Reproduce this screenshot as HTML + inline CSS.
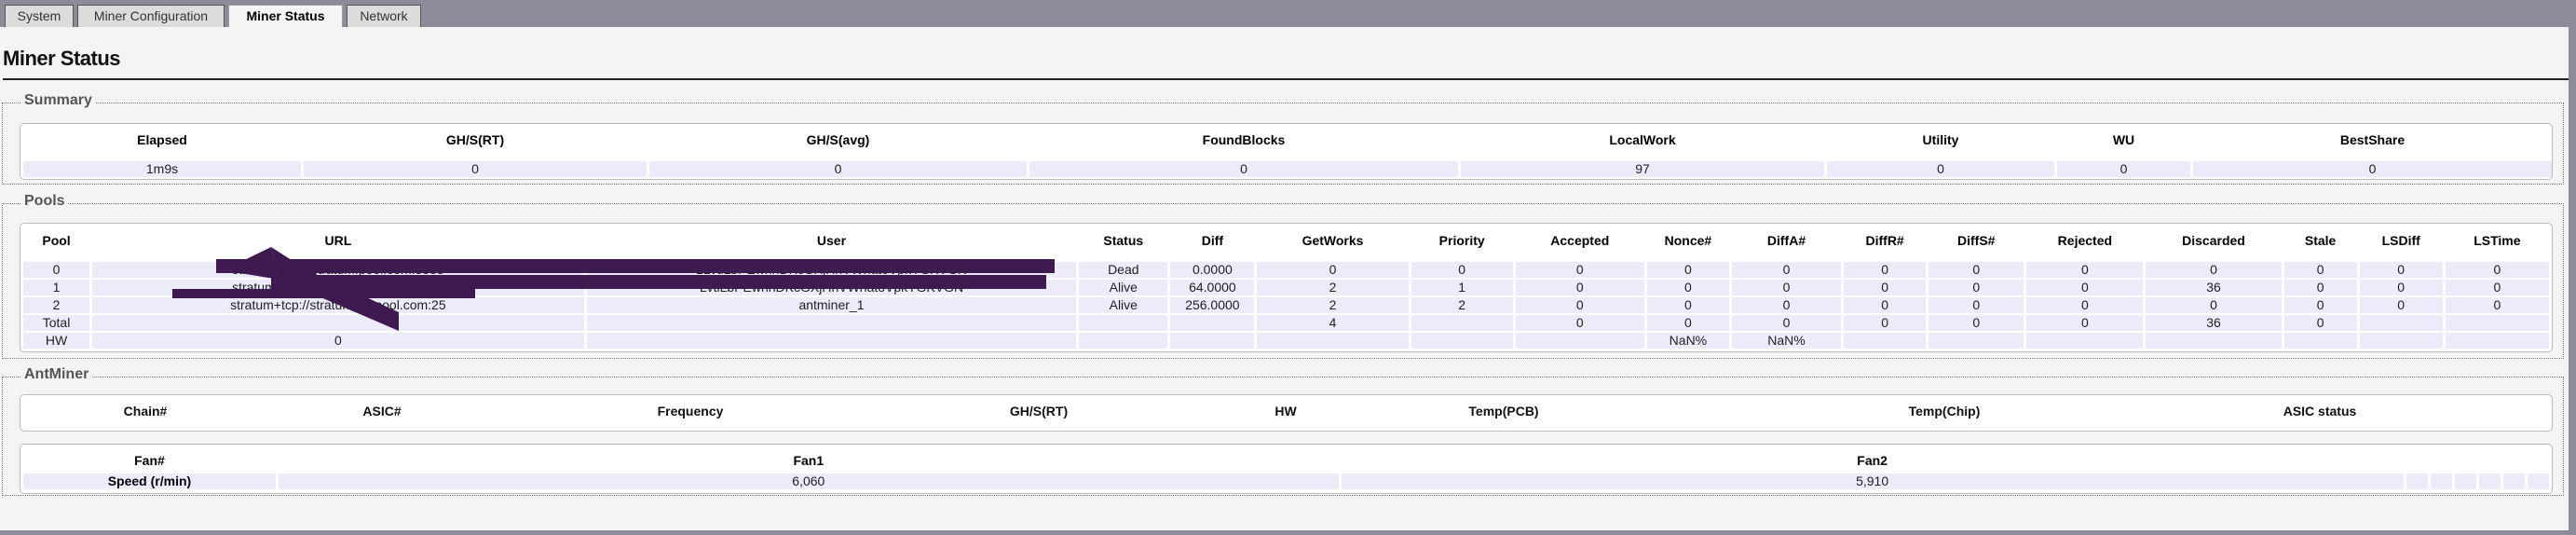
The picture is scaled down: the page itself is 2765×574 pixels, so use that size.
<!DOCTYPE html>
<html><head><meta charset="utf-8"><style>
*{margin:0;padding:0;box-sizing:border-box}
body{width:2765px;height:574px;background:#8e8a9a;position:relative;overflow:hidden;font-family:"Liberation Sans",sans-serif;font-size:14px;color:#111}
.page{position:absolute;left:0;top:29px;width:2757px;height:540px;background:#f4f4f4}
.tab{position:absolute;top:5px;height:25px;background:#dcdcdc;border:1px solid #555;border-bottom:none;font-size:14px;color:#333;text-align:center;line-height:23px}
.tab.a{background:#f4f4f4;font-weight:bold;color:#000;border-color:#999;height:25px}
h2{position:absolute;left:3px;top:50px;font-size:22px;font-weight:bold;color:#111;letter-spacing:-0.5px}
.hr{position:absolute;left:3px;top:84px;width:2754px;height:2px;background:#222}
.fs{position:absolute;left:2px;width:2750px;border:1px dotted #777}
.lg{position:absolute;left:20px;top:-12px;background:#f4f4f4;font-weight:bold;font-size:16px;color:#555;padding:0 3px}
.box{position:absolute;left:21px;width:2719px;background:#fff;border:1px solid #bbb;border-radius:5px}
table{border-spacing:3px 2px;table-layout:fixed;position:absolute;left:0;top:0}
td,th{text-align:center;white-space:nowrap;overflow:hidden;font-size:14px}
th{font-weight:bold;color:#000}
td{background:#ebebfa;height:17px;line-height:17px;color:#222}
.h{position:absolute;font-weight:bold;transform:translateX(-50%);white-space:nowrap}
</style></head><body>
<div class="tab" style="left:5px;width:74px">System</div>
<div class="tab" style="left:83px;width:158px">Miner Configuration</div>
<div class="tab a" style="left:245px;width:123px">Miner Status</div>
<div class="tab" style="left:372px;width:80px">Network</div>
<div class="page"></div>
<h2>Miner Status</h2>
<div class="hr"></div>

<div class="fs" style="top:110px;height:88px"><div class="lg">Summary</div></div>
<div class="box" style="top:132px;height:61px">
<table style="width:2717px">
<colgroup><col style="width:298px"><col style="width:368px"><col style="width:405px"><col style="width:460px"><col style="width:390px"><col style="width:244px"><col style="width:143px"><col style="width:385px"></colgroup>
<tr style="height:36px"><th style="padding-bottom:6px">Elapsed</th><th style="padding-bottom:6px">GH/S(RT)</th><th style="padding-bottom:6px">GH/S(avg)</th><th style="padding-bottom:6px">FoundBlocks</th><th style="padding-bottom:6px">LocalWork</th><th style="padding-bottom:6px">Utility</th><th style="padding-bottom:6px">WU</th><th style="padding-bottom:6px">BestShare</th></tr>
<tr><td>1m9s</td><td>0</td><td>0</td><td>0</td><td>97</td><td>0</td><td>0</td><td>0</td></tr>
</table></div>

<div class="fs" style="top:218px;height:167px"><div class="lg">Pools</div></div>
<div class="box" style="top:239px;height:139px">
<table style="width:2717px;top:2px">
<colgroup><col style="width:71px"><col style="width:527px"><col style="width:525px"><col style="width:95px"><col style="width:90px"><col style="width:162px"><col style="width:109px"><col style="width:138px"><col style="width:88px"><col style="width:117px"><col style="width:88px"><col style="width:102px"><col style="width:125px"><col style="width:145px"><col style="width:78px"><col style="width:89px"><col style="width:111px"></colgroup>
<tr style="height:35px;vertical-align:top"><th style="padding-top:6px">Pool</th><th style="padding-top:6px">URL</th><th style="padding-top:6px">User</th><th style="padding-top:6px">Status</th><th style="padding-top:6px">Diff</th><th style="padding-top:6px">GetWorks</th><th style="padding-top:6px">Priority</th><th style="padding-top:6px">Accepted</th><th style="padding-top:6px">Nonce#</th><th style="padding-top:6px">DiffA#</th><th style="padding-top:6px">DiffR#</th><th style="padding-top:6px">DiffS#</th><th style="padding-top:6px">Rejected</th><th style="padding-top:6px">Discarded</th><th style="padding-top:6px">Stale</th><th style="padding-top:6px">LSDiff</th><th style="padding-top:6px">LSTime</th></tr>
<tr><td>0</td><td>stratum+tcp://stratum.pool.com:3333</td><td>1LvtiLbPEwnnDKcGXjHnVWhatoVpkYGKVGN</td><td>Dead</td><td>0.0000</td><td>0</td><td>0</td><td>0</td><td>0</td><td>0</td><td>0</td><td>0</td><td>0</td><td>0</td><td>0</td><td>0</td><td>0</td></tr>
<tr><td>1</td><td>stratum+tcp://stratum.pool.com:3333</td><td>LvtiLbPEwnnDKcGXjHnVWhatoVpkYGKVGN</td><td>Alive</td><td>64.0000</td><td>2</td><td>1</td><td>0</td><td>0</td><td>0</td><td>0</td><td>0</td><td>0</td><td>36</td><td>0</td><td>0</td><td>0</td></tr>
<tr><td>2</td><td>stratum+tcp://stratum-cn.pool.com:25</td><td>antminer_1</td><td>Alive</td><td>256.0000</td><td>2</td><td>2</td><td>0</td><td>0</td><td>0</td><td>0</td><td>0</td><td>0</td><td>0</td><td>0</td><td>0</td><td>0</td></tr>
<tr><td>Total</td><td></td><td></td><td></td><td></td><td>4</td><td></td><td>0</td><td>0</td><td>0</td><td>0</td><td>0</td><td>0</td><td>36</td><td>0</td><td></td><td></td></tr>
<tr><td>HW</td><td>0</td><td></td><td></td><td></td><td></td><td></td><td></td><td>NaN%</td><td>NaN%</td><td></td><td></td><td></td><td></td><td></td><td></td><td></td></tr>
</table></div>

<svg style="position:absolute;left:0;top:0" width="2765" height="574">
<g fill="#3f1a50">
<polygon points="232,278 1132,278 1132,293 232,293"/>
<polygon points="291,295 1123,295 1123,310 291,310"/>
<polygon points="185,310 510,310 510,320 185,320"/>
<polygon points="291,265 300,300 428,355 428,335 330,290"/>
<polygon points="240,290 291,265 300,300"/>
</g></svg>

<div class="fs" style="top:404px;height:128px"><div class="lg">AntMiner</div></div>
<div class="box" style="top:423px;height:40px">
<div class="h" style="left:134px;top:9px">Chain#</div>
<div class="h" style="left:388px;top:9px">ASIC#</div>
<div class="h" style="left:719px;top:9px">Frequency</div>
<div class="h" style="left:1093px;top:9px">GH/S(RT)</div>
<div class="h" style="left:1358px;top:9px">HW</div>
<div class="h" style="left:1592px;top:9px">Temp(PCB)</div>
<div class="h" style="left:2065px;top:9px">Temp(Chip)</div>
<div class="h" style="left:2468px;top:9px">ASIC status</div>
</div>
<div class="box" style="top:476px;height:54px">
<table style="width:2717px;top:2px">
<colgroup><col style="width:270px"><col style="width:1134px"><col style="width:1136px"><col style="width:23px"><col style="width:23px"><col style="width:23px"><col style="width:23px"><col style="width:23px"><col style="width:23px"></colgroup>
<tr style="height:25px"><th>Fan#</th><th>Fan1</th><th>Fan2</th><th></th><th></th><th></th><th></th><th></th><th></th></tr>
<tr><td style="font-weight:bold;color:#000">Speed (r/min)</td><td>6,060</td><td>5,910</td><td></td><td></td><td></td><td></td><td></td><td></td></tr>
</table></div>
</body></html>
